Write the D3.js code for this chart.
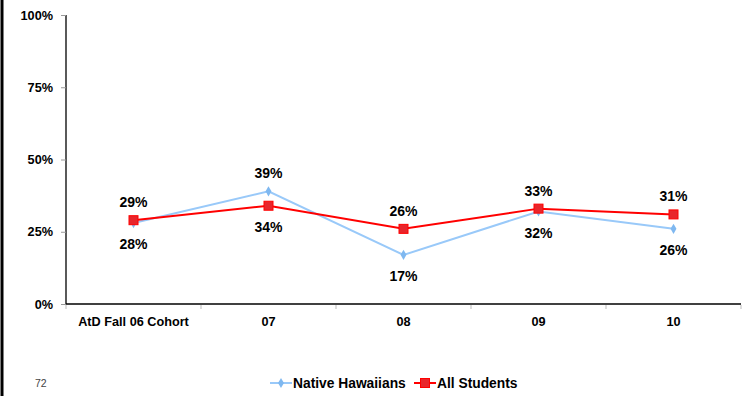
<!DOCTYPE html>
<html><head><meta charset="utf-8">
<script src="https://cdn.jsdelivr.net/npm/d3@7"></script>
<style>body{margin:0;background:#fff}svg{display:block}text{font-family:"Liberation Sans",Arial,sans-serif}</style>
</head><body>
<script>
const categories = ["AtD Fall 06 Cohort","07","08","09","10"];
const nativeHawaiians = [28,39,17,32,26];
const allStudents = [29,34,26,33,31];
const yTicks = [0,25,50,75,100];
const seriesNames = ["Native Hawaiians","All Students"];
const nhLabelPos = ["below","above","below","below","below"];
const asLabelPos = ["above","below","above","above","above"];

const W=744,H=396;
const svg=d3.select("body").append("svg").attr("width",W).attr("height",H);
const L=66,R=741,T=15,B=304;
const x=d3.scaleBand().domain(categories).range([L,R]);
const y=d3.scaleLinear().domain([0,100]).range([B,T]);

// left page border
svg.append("line").attr("x1",2).attr("x2",2).attr("y1",0).attr("y2",H).attr("stroke","#000").attr("stroke-width",3);

// y axis
const ya=svg.append("g").attr("transform",`translate(${L},0)`).call(d3.axisLeft(y).tickValues(yTicks).tickFormat(d=>d+"%").tickSize(5).tickPadding(8));
ya.select(".domain").attr("stroke","#000").attr("stroke-width",1.3).attr("d",`M0,${T}V${B}`);
ya.selectAll(".tick line").attr("stroke","#999");
ya.selectAll(".tick text").attr("font-size",12.7).attr("font-weight","bold").attr("fill","#000").attr("font-family","Liberation Sans, Arial, sans-serif");

// x axis
const xa=svg.append("g").attr("transform",`translate(0,${B})`).call(d3.axisBottom(x).tickSize(0).tickPadding(13));
xa.select(".domain").attr("stroke","#000").attr("stroke-width",1.3).attr("d",`M${L},0H${R}`);
xa.selectAll(".tick text").attr("font-size",12.7).attr("font-weight","bold").attr("fill","#000").attr("font-family","Liberation Sans, Arial, sans-serif");
// band boundary ticks
const bounds=categories.map(c=>x(c)).concat([R]);
svg.append("g").selectAll("line").data(bounds).join("line")
  .attr("x1",d=>d).attr("x2",d=>d).attr("y1",B+1).attr("y2",B+5).attr("stroke","#bbb");

const cx=c=>x(c)+x.bandwidth()/2;
const line=d3.line().x((d,i)=>cx(categories[i])).y(d=>y(d));

const nhColor="#99c9f9", asColor="#ff0000";
svg.append("path").datum(nativeHawaiians).attr("d",line).attr("fill","none").attr("stroke",nhColor).attr("stroke-width",2);
svg.append("path").datum(allStudents).attr("d",line).attr("fill","none").attr("stroke",asColor).attr("stroke-width",2);

const diamond=d3.symbol().type(d3.symbolDiamond).size(30);
svg.append("g").selectAll("path").data(nativeHawaiians).join("path")
  .attr("d",diamond).attr("transform",(d,i)=>`translate(${cx(categories[i])},${y(d)})`).attr("fill","#7fb8f0");
svg.append("g").selectAll("rect").data(allStudents).join("rect")
  .attr("x",(d,i)=>cx(categories[i])-4.5).attr("y",d=>y(d)-4.5).attr("width",9).attr("height",9)
  .attr("fill","#e8262c").attr("stroke","#ff0000").attr("stroke-width",1);

function labels(data,pos){
  svg.append("g").selectAll("text").data(data).join("text")
    .attr("x",(d,i)=>cx(categories[i])).attr("y",(d,i)=>y(d)+(pos[i]==="above"?-13:26))
    .attr("text-anchor","middle").attr("font-size",14).attr("font-weight","bold").attr("fill","#000")
    .text(d=>d+"%");
}
labels(nativeHawaiians,nhLabelPos);
labels(allStudents,asLabelPos);

// legend
const lg=svg.append("g");
lg.append("line").attr("x1",270).attr("x2",292).attr("y1",383).attr("y2",383).attr("stroke",nhColor).attr("stroke-width",2);
lg.append("path").attr("d",diamond).attr("transform","translate(281,383)").attr("fill","#7fb8f0");
lg.append("text").attr("x",293).attr("y",388).attr("font-size",13.8).attr("font-weight","bold").text(seriesNames[0]);
lg.append("line").attr("x1",414).attr("x2",436).attr("y1",383).attr("y2",383).attr("stroke",asColor).attr("stroke-width",2);
lg.append("rect").attr("x",420.5).attr("y",378.5).attr("width",9).attr("height",9).attr("fill","#e8262c").attr("stroke","#ff0000");
lg.append("text").attr("x",437).attr("y",388).attr("font-size",13.8).attr("font-weight","bold").text(seriesNames[1]);

// page number
svg.append("text").attr("x",35).attr("y",387).attr("font-size",10.5).attr("fill","#444").text("72");
</script>
</body></html>
